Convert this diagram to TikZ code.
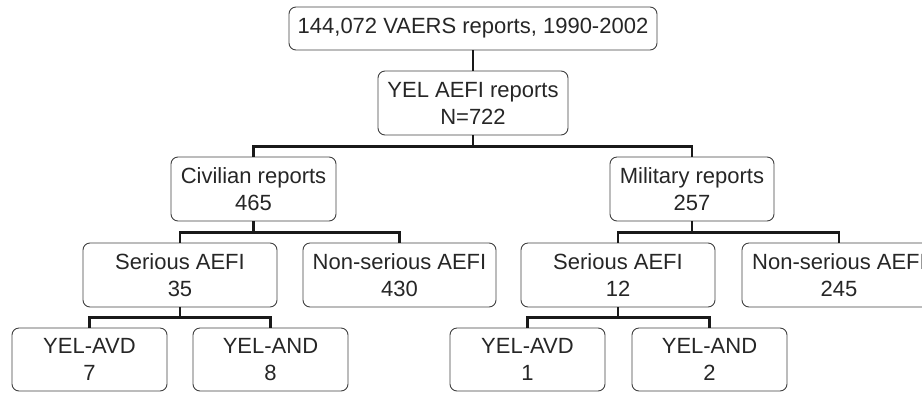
\documentclass[tikz,border=0pt]{standalone}
\usepackage{fontspec}
\setmainfont{Liberation Sans}
\tikzset{
  box/.style={draw=black!75, line width=0.9pt, rounded corners=7pt,
    align=center, inner sep=0pt, text=black!85,
    font=\fontsize{22}{27}\selectfont},
  link/.style={draw=black!90, line width=2.6pt}
}
\begin{document}
\begin{tikzpicture}[x=1pt,y=-1pt]
    \clip (0,0) rectangle (922,392);

    % Top of the tree
    \node [box, minimum width=368pt, minimum height=43pt] (all) at (473,28.5)
        {144,072 VAERS reports, 1990-2002};
    \node [box, minimum width=190pt, minimum height=64pt] (yel) at (473,103)
        {YEL AEFI reports\\N=722};

    % Civilian / military
    \node [box, minimum width=165pt, minimum height=64pt] (civ) at (253.5,189)
        {Civilian reports\\465};
    \node [box, minimum width=164pt, minimum height=64pt] (mil) at (692,189)
        {Military reports\\257};

    % Serious / non-serious
    \node [box, minimum width=194pt, minimum height=64pt] (civser) at (180,275)
        {Serious AEFI\\35};
    \node [box, minimum width=193pt, minimum height=64pt] (civnon) at (399.5,275)
        {Non-serious AEFI\\430};
    \node [box, minimum width=194pt, minimum height=64pt] (milser) at (618,275)
        {Serious AEFI\\12};
    \node [box, minimum width=194pt, minimum height=64pt] (milnon) at (839,275)
        {Non-serious AEFI\\245};

    % AVD / AND
    \node [box, minimum width=155pt, minimum height=63pt] (civavd) at (89.5,359.5)
        {YEL-AVD\\7};
    \node [box, minimum width=155pt, minimum height=63pt] (civand) at (270.5,359.5)
        {YEL-AND\\8};
    \node [box, minimum width=155pt, minimum height=63pt] (milavd) at (527.5,359.5)
        {YEL-AVD\\1};
    \node [box, minimum width=155pt, minimum height=63pt] (miland) at (709.5,359.5)
        {YEL-AND\\2};

    % Links
    \draw [link] (all.south) -- (yel.north);
    \draw [link] (yel.south) -- ++(0,11) -| (civ.north);
    \draw [link] (yel.south) -- ++(0,11) -| (mil.north);

    \draw [link] (civ.south) -- ++(0,11) -| (civser.north);
    \draw [link] (civ.south) -- ++(0,11) -| (civnon.north);
    \draw [link] (mil.south) -- ++(0,11) -| (milser.north);
    \draw [link] (mil.south) -- ++(0,11) -| (milnon.north);

    \draw [link] (civser.south) -- ++(0,10) -| (civavd.north);
    \draw [link] (civser.south) -- ++(0,10) -| (civand.north);
    \draw [link] (milser.south) -- ++(0,10) -| (milavd.north);
    \draw [link] (milser.south) -- ++(0,10) -| (miland.north);
\end{tikzpicture}
\end{document}
